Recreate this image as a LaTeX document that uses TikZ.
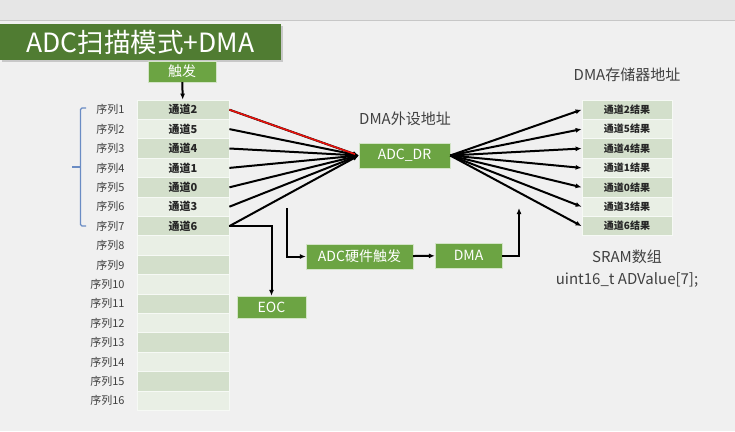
\documentclass[tikz,border=0pt]{standalone}
\usepackage{fontspec}
\setmainfont{Noto Sans CJK SC}
\usetikzlibrary{arrows.meta,positioning,calc,shadows}
\definecolor{pagebg}{HTML}{F0F0F0}
\definecolor{topbar}{HTML}{E6E6E6}
\definecolor{titlegreen}{HTML}{507C32}
\definecolor{boxgreen}{HTML}{6CA443}
\definecolor{rowdark}{HTML}{D3DFCB}
\definecolor{rowlight}{HTML}{E9EFE5}
\definecolor{bracecol}{HTML}{6A8CC4}
\definecolor{labeltext}{HTML}{404040}
\definecolor{markred}{HTML}{E8120C}

\begin{document}
\begin{tikzpicture}[x=1pt,y=-1pt,
  gbox/.style={draw=white!70!boxgreen,fill=boxgreen,text=white,inner sep=0pt,
               font=\fontsize{14}{16}\selectfont},
  cell/.style={draw=white!60!rowlight,line width=0.8pt,minimum width=92pt,
               minimum height=19.4pt,inner sep=0pt},
  rescell/.style={cell,minimum width=90pt},
  seqlabel/.style={anchor=east,text=labeltext,font=\fontsize{11}{13}\selectfont},
  note/.style={text=labeltext,font=\fontsize{15}{17}\selectfont},
  link/.style={-{Latex[length=6pt,width=5pt]},line width=2pt,draw=black}
]
\useasboundingbox (0,0) rectangle (735,431);
\fill[pagebg] (0,0) rectangle (735,431);
\fill[topbar] (0,0) rectangle (735,20);
\draw[black!22,line width=1pt] (0,20) -- (735,20);

% title
\node[fill=titlegreen,text=white,minimum width=281pt,minimum height=36pt,inner sep=0pt,
      drop shadow={shadow xshift=1.5pt,shadow yshift=-1.5pt,opacity=.35},
      font=\fontsize{26.5}{29}\selectfont] (title) at (140.5,42) {ADC扫描模式+DMA};

% trigger
\node[gbox,minimum width=68pt,minimum height=21pt] (trig) at (182,71.5) {触发};

% sequence table
\foreach \i in {1,...,16}{
  \ifodd\i\def\rowfill{rowdark}\else\def\rowfill{rowlight}\fi
  \node[cell,fill=\rowfill] (cell\i) at (183,{109.7+19.4*(\i-1)}) {};
  \node[seqlabel] (seq\i) at (128,{109.7+19.4*(\i-1)}) {序列\i};
}
\foreach \i/\c in {1/2,2/5,3/4,4/1,5/0,6/3,7/6}
  \node[font=\bfseries\fontsize{11}{13}\selectfont,text=black!85] at (cell\i) {通道\c};

% bracket over sequence 1-7
\draw[bracecol,line width=1.2pt,rounded corners=1.5pt]
  (86,108) -| (80.5,226) -- (86,226);
\draw[bracecol,line width=1.2pt] (80.5,167) -- (72,167);

% peripheral address
\node[gbox,minimum width=91pt,minimum height=25pt] (adcdr) at (404.5,155.5) {ADC\_DR};
\node[note] (periph) at (405,119) {DMA外设地址};

% memory table
\foreach \i/\c in {1/2,2/5,3/4,4/1,5/0,6/3,7/6}{
  \ifodd\i\def\rowfill{rowdark}\else\def\rowfill{rowlight}\fi
  \node[rescell,fill=\rowfill,font=\bfseries\fontsize{10}{12}\selectfont,text=black!85]
    (res\i) at (627,{109.7+19.4*(\i-1)}) {通道\c 结果};
}
\node[note] (memaddr) at (627,75) {DMA存储器地址};
\node[note,align=center,font=\fontsize{15}{22}\selectfont] (sram) at (627,269)
  {SRAM数组\\uint16\_t ADValue[7];};

% hardware trigger chain
\node[gbox,minimum width=107pt,minimum height=25pt] (hwtrig) at (359.5,256.5) {ADC硬件触发};
\node[gbox,minimum width=67pt,minimum height=25pt] (dmabox) at (468.5,255.5) {DMA};
\node[gbox,minimum width=69pt,minimum height=22pt] (eoc) at (271.5,307) {EOC};
\coordinate (trigsrc) at (287,208);
\coordinate (dmaup) at (519,208);

% connectors
\draw[link] (trig) -- (cell1);
\foreach \i in {1,...,7}
  \draw[link] (cell\i.east) -- (adcdr.west);
\draw[line width=1.6pt,draw=markred,shorten >=4pt] (cell1.east) -- (adcdr.west);
\foreach \i in {1,...,7}
  \draw[link] (adcdr.east) -- (res\i.west);
\draw[link] (cell7.east) -| (eoc.north);
\draw[link] (trigsrc) |- (hwtrig.west);
\draw[link] (hwtrig) -- (dmabox);
\draw[link] (dmabox.east) -| (dmaup);
\end{tikzpicture}
\end{document}
